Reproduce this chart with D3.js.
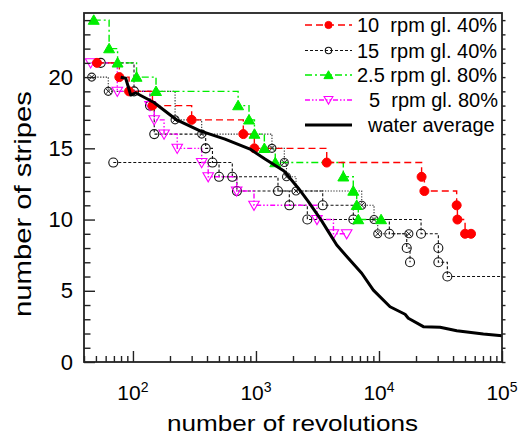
<!DOCTYPE html>
<html><head><meta charset="utf-8">
<script src="https://cdn.jsdelivr.net/npm/d3@7"></script>
<style>
body{margin:0;background:#fff}
svg{display:block}
text{font-family:"Liberation Sans",Arial,Helvetica,sans-serif;fill:#000}
</style>
</head><body>
<svg id="chart" width="522" height="437"></svg>
<script>
// ---------- data ----------
const xDomain = [40, 100000];
const yDomain = [0, 24.5];
const xMajorTicks = [100, 1000, 10000, 100000];
const xTickExponents = ["2", "3", "4", "5"];
const yTicks = [0, 5, 10, 15, 20];

// 10 rpm gl. 40%
const rpm10X = [51, 77.5, 93, 144, 300, 789, 970, 3760, 22200, 23400, 42800, 43400, 50100, 56000];
const rpm10Y = [21, 20, 19, 18, 17, 16, 15, 14, 13, 12, 11, 10, 9, 9];

// 15 rpm gl. 40% (three runs)
const rpm15aX = [46.2, 63, 220, 362, 1349, 1700, 1771, 2116, 7240, 9115, 9770, 17500];
const rpm15aY = [20, 19, 17, 16, 15, 14, 13, 12, 11, 10, 9, 9];
const rpm15bX = [54.7, 102, 137.6, 149, 390, 443, 501, 700, 1867, 2615, 21980, 30380, 30380, 35950];
const rpm15bY = [21, 19, 18, 16, 15, 14, 13, 12, 11, 10, 9, 8, 7, 6];
const rpm15bEndX = 100000;
const rpm15cX = [69.2, 642, 1510, 3488, 6187, 12140, 16810, 17880];
const rpm15cY = [14, 13, 12, 11, 10, 9, 8, 7];

// 2.5 rpm gl. 80%
const rpm25X = [48, 64, 75, 107, 154, 716, 878, 972, 1170, 1435, 5130, 6180, 6590, 6790, 10400];
const rpm25Y = [24, 22, 21, 20, 19, 18, 17, 16, 15, 14, 13, 12, 11, 10, 10];

// 5 rpm gl. 80%
const rpm5X = [45.3, 74.6, 137.6, 149, 179, 229, 362, 409, 697, 964, 3133, 4264, 5463];
const rpm5Y = [21, 19, 18, 17, 16, 15, 14, 13, 12, 11, 10, 9, 9];

// water average
const waterX = [79.5, 87.3, 95.9, 105, 148.3, 227, 351, 560, 895, 1184, 1691, 2210, 2649, 3317, 3877, 4535, 5634, 7240, 8995, 12300, 16290, 17320, 22940, 31370, 42870, 70530, 100000];
const waterY = [19.99, 19.92, 18.74, 18.9, 18.22, 16.99, 16.22, 15.65, 14.95, 14.25, 13.41, 12.2, 11.3, 10.09, 9.15, 8.21, 7.28, 6.23, 5.05, 3.88, 3.35, 3.07, 2.48, 2.44, 2.2, 1.97, 1.85];

const legendLabels = ["10  rpm gl. 40%", "15  rpm gl. 40%", "2.5 rpm gl. 80%", "5  rpm gl. 80%", "water average"];

// ---------- chart ----------
const svg = d3.select("#chart");
const L = 84, R = 502, T = 13, B = 362;
const x = d3.scaleLog().domain(xDomain).range([L, R]);
const y = d3.scaleLinear().domain(yDomain).range([B, T]);
const zip = (xs, ys) => xs.map((v, i) => [v, ys[i]]);
const step = d3.line().x(d => x(d[0])).y(d => y(d[1])).curve(d3.curveStepAfter);
const lin = d3.line().x(d => x(d[0])).y(d => y(d[1]));

const RED = "#ff0000", GREEN = "#00ee00", MAG = "#ff00ff", BLK = "#111";

const plot = svg.append("g");

function drawMarkers(g, pts, kind, color, s) {
  pts.forEach(p => drawMarker(g, x(p[0]), y(p[1]), kind, color, s));
}
function drawMarker(g, cx, cy, kind, color, s) {
  if (kind === "fcircle") {
    g.append("circle").attr("cx", cx).attr("cy", cy).attr("r", s).attr("fill", color).attr("stroke", color);
  } else if (kind === "ocircle") {
    g.append("circle").attr("cx", cx).attr("cy", cy).attr("r", s).attr("fill", "none").attr("stroke", color).attr("stroke-width", 1.1);
  } else if (kind === "xcircle") {
    g.append("circle").attr("cx", cx).attr("cy", cy).attr("r", s).attr("fill", "none").attr("stroke", color).attr("stroke-width", 1.1);
    const d = s * 0.7;
    g.append("path").attr("d", `M${cx-d},${cy-d}L${cx+d},${cy+d}M${cx-d},${cy+d}L${cx+d},${cy-d}`)
      .attr("stroke", color).attr("stroke-width", 1);
  } else if (kind === "tup") {
    g.append("path").attr("d", d3.symbol(d3.symbolTriangle, s)()).attr("transform", `translate(${cx},${cy+1})`)
      .attr("fill", color).attr("stroke", color);
  } else if (kind === "tdown") {
    g.append("path").attr("d", d3.symbol(d3.symbolTriangle, s)()).attr("transform", `translate(${cx},${cy-1}) rotate(180)`)
      .attr("fill", "none").attr("stroke", color).attr("stroke-width", 1.1);
  }
}

// styles
const st = {
  r10: {color: RED, dash: "7,4", w: 1.4},
  r15: {color: BLK, dash: "3,2", w: 1.1},
  r15dot: {color: "#333", dash: "1.3,1.5", w: 1.1},
  r25: {color: GREEN, dash: "7,3,2,3", w: 1.4},
  r5: {color: MAG, dash: "5,2,1.5,2,1.5,2", w: 1.4}
};
function drawStep(pts, s) {
  plot.append("path").attr("d", step(pts)).attr("fill", "none")
    .attr("stroke", s.color).attr("stroke-width", s.w).attr("stroke-dasharray", s.dash);
}

const pA = zip(rpm15aX, rpm15aY), pB = zip(rpm15bX, rpm15bY), pC = zip(rpm15cX, rpm15cY);
drawStep(pA, st.r15dot);
drawStep(pB.concat([[rpm15bEndX, rpm15bY[rpm15bY.length - 1]]]), st.r15);
drawStep(pC, st.r15);
const p5 = zip(rpm5X, rpm5Y); drawStep(p5, st.r5);
const p25 = zip(rpm25X, rpm25Y); drawStep(p25, st.r25);
const p10 = zip(rpm10X, rpm10Y); drawStep(p10, st.r10);

drawMarkers(plot, pA, "xcircle", "#222", 4);
drawMarkers(plot, pB, "ocircle", BLK, 4.5);
drawMarkers(plot, pC, "ocircle", BLK, 4.5);
drawMarkers(plot, p5, "tdown", MAG, 48);
drawMarkers(plot, p25, "tup", GREEN, 52);
drawMarkers(plot, p10, "fcircle", RED, 4.5);

plot.append("path").attr("d", lin(zip(waterX, waterY))).attr("fill", "none")
  .attr("stroke", "#000").attr("stroke-width", 3).attr("stroke-linejoin", "round");

// ---------- axes ----------
const minorX = x.ticks().filter(v => !xMajorTicks.includes(v));
const minorY = d3.range(0, 25, 1).filter(v => !yTicks.includes(v));

const ax = svg.append("g");
ax.append("g").attr("transform", `translate(0,${B})`)
  .call(d3.axisBottom(x).tickValues(minorX).tickSize(-6).tickFormat("").tickSizeOuter(0));
ax.append("g").attr("transform", `translate(0,${B})`)
  .call(d3.axisBottom(x).tickValues(xMajorTicks).tickSize(-11).tickFormat("").tickSizeOuter(0));
ax.append("g").attr("transform", `translate(${L},0)`)
  .call(d3.axisLeft(y).tickValues(minorY).tickSize(-6.5).tickFormat("").tickSizeOuter(0));
const yAx = ax.append("g").attr("transform", `translate(${L},0)`)
  .call(d3.axisLeft(y).tickValues(yTicks).tickSize(-11).tickPadding(11).tickSizeOuter(0));
yAx.selectAll("text").attr("font-size", 22).style("font-family", '"Liberation Sans",Arial,sans-serif').attr("fill", "#000");
ax.append("g").attr("transform", `translate(${R},0)`)
  .call(d3.axisRight(y).tickValues(d3.range(0, 25, 1)).tickSize(3.5).tickFormat("").tickSizeOuter(0));
ax.selectAll(".domain").remove();
ax.selectAll("line").attr("stroke", "#222").attr("stroke-width", 1.4);

// frame
svg.append("rect").attr("x", L).attr("y", T).attr("width", R - L).attr("height", B - T)
  .attr("fill", "none").attr("stroke", "#222").attr("stroke-width", 1.8);

// x tick labels with superscripts
const xl = svg.append("g");
xMajorTicks.forEach((v, i) => {
  const t = xl.append("text").attr("x", x(v)).attr("y", 400).attr("text-anchor", "middle").attr("font-size", 21);
  t.append("tspan").text("10");
  t.append("tspan").attr("dy", -8).attr("font-size", 14).text(xTickExponents[i]);
});

// axis titles
svg.append("text").attr("x", 292.5).attr("y", 431).attr("text-anchor", "middle").attr("font-size", 22)
  .attr("textLength", 251).attr("lengthAdjust", "spacingAndGlyphs").text("number of revolutions");
svg.append("text").attr("transform", "translate(31,204) rotate(-90)").attr("text-anchor", "middle").attr("font-size", 24)
  .attr("textLength", 226).attr("lengthAdjust", "spacingAndGlyphs").text("number of stripes");

// ---------- legend ----------
const lg = svg.append("g");
const rowsY = [25, 50.5, 75, 100, 125];
const textX = [357, 357, 357, 369, 368];
const legendStyles = [st.r10, st.r15, st.r25, st.r5, null];
const legendMarks = [["fcircle", RED, 3.6], ["ocircle", BLK, 3.2], ["tup", GREEN, 36], ["tdown", MAG, 34], null];
legendLabels.forEach((lab, i) => {
  const yy = rowsY[i];
  const s = legendStyles[i];
  if (s) {
    lg.append("line").attr("x1", 305).attr("x2", 352).attr("y1", yy).attr("y2", yy)
      .attr("stroke", s.color).attr("stroke-width", s.w).attr("stroke-dasharray", s.dash);
    const m = legendMarks[i];
    drawMarker(lg, 328.5, yy, m[0], m[1], m[2]);
  } else {
    lg.append("line").attr("x1", 305).attr("x2", 352).attr("y1", yy).attr("y2", yy)
      .attr("stroke", "#000").attr("stroke-width", 3);
  }
  lg.append("text").attr("x", textX[i]).attr("y", yy + 7).attr("font-size", 20)
    .style("white-space", "pre").attr("xml:space", "preserve").text(lab);
});
</script>
</body></html>
